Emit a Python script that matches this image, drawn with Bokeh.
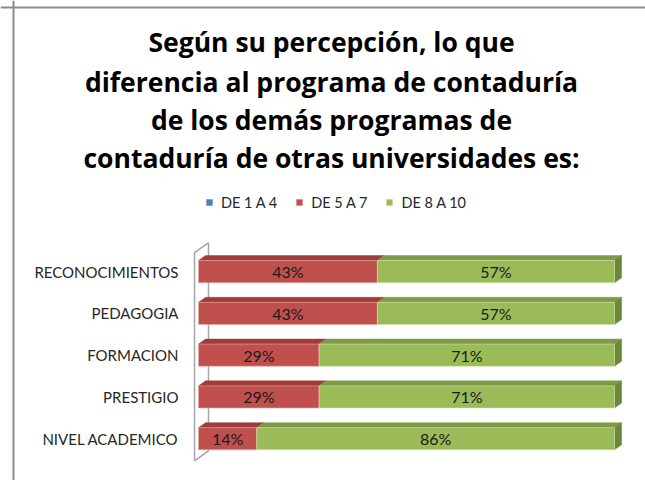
from bokeh.plotting import figure
from bokeh.models import (Range1d, Legend, LegendItem, ColumnDataSource, Label, LabelSet, Span)
from bokeh.embed import file_html
from bokeh.resources import INLINE
from bokeh.core.properties import value

# ---- data ----
categories = ["NIVEL ACADEMICO", "PRESTIGIO", "FORMACION", "PEDAGOGIA", "RECONOCIMIENTOS"]
de_1_a_4 = [0, 0, 0, 0, 0]
de_5_a_7 = [14, 29, 29, 43, 43]
de_8_a_10 = [86, 71, 71, 57, 57]
series_names = ["DE 1 A 4", "DE 5 A 7", "DE 8 A 10"]
title_lines = ["Según su percepción, lo que",
               "diferencia al programa de contaduría",
               "de los demás programas de",
               "contaduría de otras universidades es:"]

# ---- style ----
FONT = "Lato"
TFONT = "Open Sans"
BLUE, RED, GREEN = "#4F81BD", "#C0504D", "#9BBB59"
RED_TOP, GREEN_TOP, GREEN_SIDE = "#9E3C3A", "#7F9B48", "#6A873A"
H = 0.53            # front face height (y units)
DX, DY = 1.7, 0.12  # 3D depth offsets

W, HGT = 645, 480
ys = list(range(1, len(categories) + 1))

p = figure(width=W, height=HGT, output_backend="svg", toolbar_location=None,
           x_range=Range1d(-47.6, 107.45), y_range=Range1d(0, 11.49),
           x_axis_type=None, y_axis_type=None, min_border=0, title=None)
p.outline_line_color = None
p.xgrid.visible = False
p.ygrid.visible = False
p.background_fill_color = "white"
p.border_fill_color = "white"

# chart border (top and left)
p.add_layout(Span(location=13, location_units="screen", dimension="height",
                  line_color="#8C8C8C", line_width=2))
p.add_layout(Span(location=HGT - 7, location_units="screen", dimension="width",
                  line_color="#8C8C8C", line_width=2))

# back wall
wall_x = [-0.96, 2.4, 2.4, -0.96]
wall_y = [5.455, 5.69, 0.71, 0.47]
p.patch(wall_x, wall_y, fill_color="white", line_color="#A6A6A6", line_width=1.5)

# stacked segments
starts_blue = [0] * len(ys)
ends_blue = [a + b for a, b in zip(starts_blue, de_1_a_4)]
starts_red = ends_blue
ends_red = [a + b for a, b in zip(starts_red, de_5_a_7)]
starts_green = ends_red
ends_green = [a + b for a, b in zip(starts_green, de_8_a_10)]

def top_faces(x0s, x1s):
    xs, yy = [], []
    for y, a, b in zip(ys, x0s, x1s):
        if b - a <= 0:
            continue
        yt = y + H / 2
        xs.append([a, a + DX, b + DX, b])
        yy.append([yt, yt + DY, yt + DY, yt])
    return xs, yy

rx, ry = top_faces(starts_red, ends_red)
p.patches(rx, ry, fill_color=RED_TOP, line_color=RED_TOP, line_width=0.5)
gx, gy = top_faces(starts_green, ends_green)
p.patches(gx, gy, fill_color=GREEN_TOP, line_color=GREEN_TOP, line_width=0.5)
sx = [[b, b + DX, b + DX, b] for b in ends_green]
sy = [[y - H / 2, y - H / 2 + DY, y + H / 2 + DY, y + H / 2] for y in ys]
p.patches(sx, sy, fill_color=GREEN_SIDE, line_color=GREEN_SIDE, line_width=0.5)

r_blue = p.hbar(y=ys, left=starts_blue, right=ends_blue, height=H,
                fill_color=BLUE, line_color=None)
r_red = p.hbar(y=ys, left=starts_red, right=ends_red, height=H,
               fill_color=RED, line_color="#E8A9A7", line_width=0.6)
r_green = p.hbar(y=ys, left=starts_green, right=ends_green, height=H,
                 fill_color=GREEN, line_color="#D3E3B4", line_width=0.6)

# data labels
lab_x, lab_y, lab_t = [], [], []
for s, e, v in [(starts_red, ends_red, de_5_a_7), (starts_green, ends_green, de_8_a_10)]:
    for y, a, b, val in zip(ys, s, e, v):
        if val > 0:
            lab_x.append((a + b) / 2)
            lab_y.append(y)
            lab_t.append(f"{val}%")
p.text(x=lab_x, y=lab_y, text=lab_t, text_align="center", text_baseline="middle",
       text_font=value(FONT), text_font_size="16px", text_color="#1A1A1A")

# category labels (y from data, x in screen px)
cat_src = ColumnDataSource(dict(y=ys, text=categories))
p.add_layout(LabelSet(x=178, y="y", text="text", source=cat_src, x_units="screen",
                      text_align="right", text_baseline="middle",
                      text_font=value(FONT), text_font_size="15px",
                      text_color="#262626"))

# title
title_y = [439, 399, 361, 323]
for line, ty in zip(title_lines, title_y):
    p.add_layout(Label(x=331, y=ty, x_units="screen", y_units="screen", text=line,
                       text_align="center", text_baseline="middle",
                       text_font=TFONT, text_font_style="bold",
                       text_font_size="26.5px", text_color="black"))

legend = Legend(items=[LegendItem(label=series_names[0], renderers=[r_blue]),
                       LegendItem(label=series_names[1], renderers=[r_red]),
                       LegendItem(label=series_names[2], renderers=[r_green])],
                orientation="horizontal", location=(205, 268),
                glyph_width=8, glyph_height=8, label_text_font=FONT,
                label_text_font_size="14.5px", label_text_color="#262626",
                label_height=20, spacing=18, label_standoff=8, padding=0, margin=0,
                border_line_color=None, background_fill_alpha=0)
p.add_layout(legend)

open("out.html", "w").write(file_html(p, INLINE))
